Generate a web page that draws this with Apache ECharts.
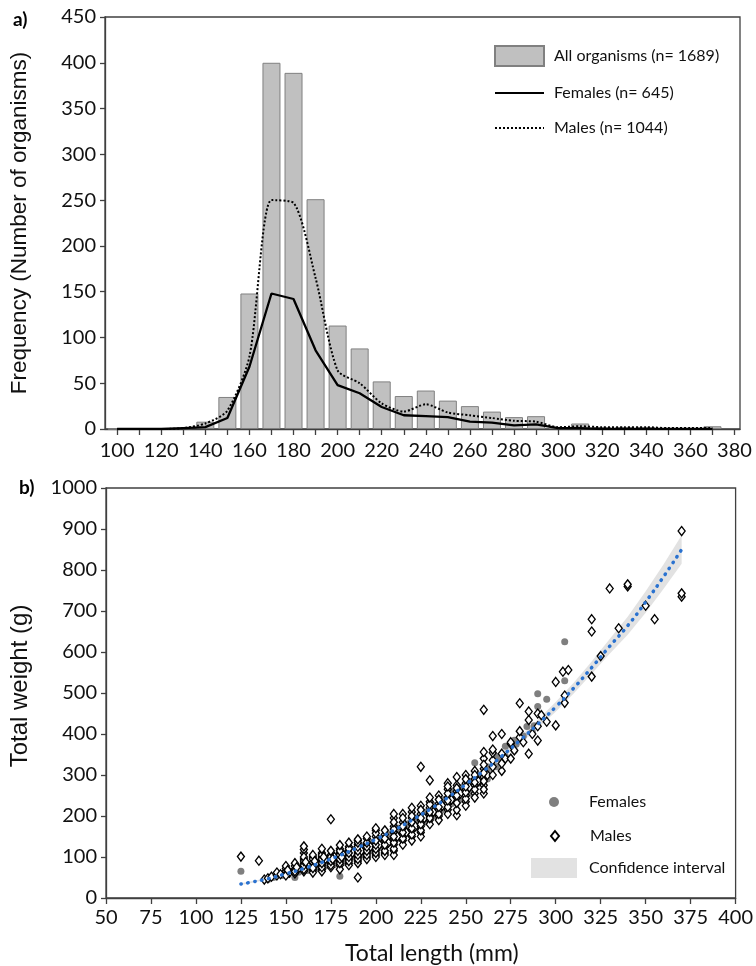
<!DOCTYPE html>
<html>
<head>
<meta charset="utf-8">
<script src="https://cdn.jsdelivr.net/npm/echarts@6/dist/echarts.min.js"></script>
<style>html,body{margin:0;padding:0;background:#fff}#c{width:756px;height:966px}</style>
</head>
<body>
<div id="c"></div>
<script>
// ---------- Panel a) frequency histogram ----------
var lengthClasses = [100,110,120,130,140,150,160,170,180,190,200,210,220,230,240,250,260,270,280,290,300,310,320,330,340,350,360,370];
var allOrganisms  = [0,0,0,1,8,35,148,400,389,251,113,88,52,36,42,31,25,19,13,14,2,6,2,2,2,1,1,3];
var femalesFreq   = [0,0,0,1,2,12,68,148,142,86,48,39,24,15,14,13,8,7,4,5,1,1,0,0,0,0,0,0];
var malesFreq     = [0,0,0,1,6,20,79,250,247,165,64,50,28,19,27,18,15,12,9,8,2,3,2,2,2,1,1,1];
var xTicksA  = [100,110,120,130,140,150,160,170,180,190,200,210,220,230,240,250,260,270,280,290,300,310,320,330,340,350,360,370,380];
var xLabelsA = [100,120,140,160,180,200,220,240,260,280,300,320,340,360,380];

// ---------- Panel b) length-weight ----------
var femalesLW = [[125,65],[140,45],[143,50],[148,55],[151,57],[153,65],[155,50],[157,63],[158,70],[162,67],[163,78],[162,75],[167,72],[168,83],[168,80],[172,78],[173,92],[172,88],[177,82],[178,99],[178,95],[180,53],[182,88],[183,102],[182,110],[187,100],[188,118],[188,112],[192,105],[193,126],[192,120],[197,115],[198,136],[198,128],[202,124],[203,146],[203,140],[207,134],[207,156],[208,150],[212,145],[212,171],[212,160],[217,160],[218,181],[218,175],[222,170],[222,196],[222,185],[227,185],[228,210],[228,200],[232,200],[232,226],[232,215],[237,215],[238,240],[238,230],[242,230],[243,261],[242,250],[247,240],[248,270],[248,260],[252,255],[252,285],[252,275],[257,280],[255,330],[258,300],[262,290],[262,320],[262,310],[267,320],[267,345],[268,340],[272,345],[272,370],[277,360],[277,385],[278,375],[282,395],[284,418],[287,405],[288,420],[290,467],[290,498],[295,485],[305,530],[305,625]];
var malesLW = [[125,101],[135,91],[138,45],[140,48],[142,52],[145,55],[145,62],[147,58],[150,60],[150,66],[150,72],[152,62],[155,70],[155,78],[155,60],[157,72],[160,65],[160,75],[160,85],[160,95],[160,110],[160,118],[162,80],[165,68],[165,78],[165,88],[165,100],[167,85],[170,70],[170,80],[170,90],[170,100],[170,110],[172,95],[175,75],[175,85],[175,95],[175,105],[175,192],[177,100],[180,80],[180,90],[180,100],[180,110],[180,120],[182,105],[185,85],[185,95],[185,105],[185,115],[185,125],[187,110],[190,50],[190,90],[190,100],[190,110],[190,120],[190,130],[190,140],[192,115],[195,100],[195,110],[195,120],[195,130],[195,145],[197,125],[200,105],[200,115],[200,125],[200,135],[200,150],[200,165],[202,130],[205,110],[205,125],[205,140],[205,155],[207,135],[210,115],[210,130],[210,145],[210,160],[210,175],[210,195],[212,150],[215,140],[215,155],[215,170],[215,185],[215,205],[217,160],[220,150],[220,165],[220,180],[220,195],[220,210],[222,175],[225,160],[225,175],[225,190],[225,205],[225,225],[225,320],[227,195],[230,190],[230,205],[230,220],[230,235],[230,287],[232,210],[235,200],[235,215],[235,230],[235,250],[237,225],[240,215],[240,230],[240,245],[240,265],[240,280],[242,240],[245,202],[245,245],[245,260],[245,275],[245,295],[247,255],[250,235],[250,250],[250,265],[250,280],[250,300],[252,270],[255,255],[255,275],[255,290],[255,310],[257,285],[260,255],[260,275],[260,295],[260,315],[260,340],[260,356],[260,459],[262,300],[265,300],[265,320],[265,336],[265,354],[265,362],[265,395],[270,310],[270,328],[270,352],[270,400],[272,340],[275,340],[275,376],[275,380],[277,360],[280,392],[280,407],[280,475],[282,380],[285,352],[285,434],[285,455],[287,400],[290,384],[290,419],[290,450],[292,446],[295,430],[300,421],[300,527],[304,552],[305,476],[305,494],[307,556],[320,540],[320,650],[320,680],[325,590],[330,755],[335,658],[340,760],[340,765],[350,713],[355,680],[370,735],[370,743],[370,895]];
var malesLWDense = [[150,55],[150,78],[151,68],[155,65],[155,85],[156,75],[160,70],[160,80],[160,90],[160,100],[160,126],[161,88],[165,62],[165,73],[165,95],[165,105],[166,90],[170,65],[170,75],[170,85],[170,95],[170,105],[170,120],[171,100],[175,80],[175,90],[175,100],[175,115],[176,95],[180,70],[180,85],[180,95],[180,105],[180,115],[180,129],[181,100],[185,80],[185,90],[185,100],[185,110],[185,120],[185,135],[190,85],[190,95],[190,105],[190,115],[190,125],[190,135],[190,143],[195,95],[195,105],[195,115],[195,125],[195,135],[195,150],[200,100],[200,110],[200,120],[200,130],[200,140],[200,158],[200,170],[205,105],[205,115],[205,130],[205,145],[205,165],[210,105],[210,120],[210,135],[210,150],[210,168],[210,185],[210,205],[215,130],[215,145],[215,160],[215,175],[215,195],[220,140],[220,155],[220,170],[220,185],[220,200],[220,220],[225,150],[225,165],[225,180],[225,195],[225,215],[230,180],[230,195],[230,210],[230,228],[230,245],[235,190],[235,205],[235,222],[235,240],[240,205],[240,222],[240,238],[240,255],[240,272],[245,215],[245,232],[245,250],[245,268],[250,225],[250,242],[250,258],[250,272],[250,290],[255,245],[255,265],[255,282],[255,300],[260,265],[260,285],[260,305],[260,325]];
var fitLengths = [125,130,140,150,160,170,180,190,200,210,220,230,240,250,260,270,280,290,300,310,320,330,340,350,360,370];
var fitWeights = [34,38,47,59,72,87,104,123,143,165,190,216,245,277,310,346,384,424,466,512,562,614,664,722,784,850];
var ciLower    = [32,36,45,56,69,84,101,119,139,161,185,211,239,271,303,338,375,414,454,499,547,596,642,696,754,815];
var ciUpper    = [36,40,49,62,75,90,107,127,147,169,195,221,251,283,317,354,393,434,478,525,577,632,686,748,814,885];

function pairs(xs, ys) { return xs.map(function (x, i) { return [x, ys[i]]; }); }

var FONT = "Lato, 'Liberation Sans Narrow', sans-serif";
var TFONT = "'Liberation Sans', Arial, sans-serif";
var AX = '#404040';
var chart = echarts.init(document.getElementById('c'), null, {renderer: 'canvas'});

var axisCommon = {
  axisLine: {show: true, lineStyle: {color: AX, width: 1.3}},
  axisTick: {show: true, length: 5, lineStyle: {color: AX, width: 1.3}},
  splitLine: {show: false},
  axisLabel: {color: '#111', fontFamily: FONT, fontSize: 20}
};
function ax(o) { return echarts.util.merge(echarts.util.clone(axisCommon), o, true); }
function leg(o) {
  return echarts.util.merge({padding: 0, selectedMode: false, itemGap: 0,
    textStyle: {fontFamily: FONT, fontSize: 16, color: '#111'}}, o, true);
}

var option = {
  animation: false,
  backgroundColor: '#fff',
  title: [
    {text: 'a)', left: 8, top: 5, textStyle: {fontFamily: FONT, fontSize: 19, fontWeight: 'bold', color: '#000'}},
    {text: 'b)', left: 14, top: 473, textStyle: {fontFamily: FONT, fontSize: 19, fontWeight: 'bold', color: '#000'}}
  ],
  grid: [
    {left: 105, right: 16, top: 17, bottom: 537, show: true, borderColor: AX, borderWidth: 1.3},
    {left: 104, right: 18, top: 488, bottom: 66, show: true, borderColor: AX, borderWidth: 1.3}
  ],
  xAxis: [
    ax({type: 'value', gridIndex: 0, min: 94.5, max: 382.5,
        axisTick: {customValues: xTicksA, length: 6},
        axisLabel: {customValues: xLabelsA, margin: 12}}),
    ax({type: 'value', gridIndex: 1, min: 50, max: 400, interval: 25,
        axisTick: {length: 6},
        axisLabel: {margin: 10},
        name: 'Total length (mm)', nameLocation: 'middle', nameGap: 44,
        nameTextStyle: {fontFamily: FONT, fontSize: 23, color: '#111', padding: [0, 0, 0, 22]}})
  ],
  yAxis: [
    ax({type: 'value', gridIndex: 0, min: 0, max: 450, interval: 50,
        axisLabel: {margin: 9},
        name: 'Frequency (Number of organisms)', nameLocation: 'middle', nameGap: 74,
        nameTextStyle: {fontFamily: TFONT, fontSize: 22.5, color: '#111'}}),
    ax({type: 'value', gridIndex: 1, min: 0, max: 1000, interval: 100,
        axisLabel: {margin: 9, formatter: function (v) { return String(v); }},
        name: 'Total weight (g)', nameLocation: 'middle', nameGap: 74,
        nameTextStyle: {fontFamily: TFONT, fontSize: 24, color: '#111', padding: [0, 0, 0, 14]}})
  ],
  legend: [
    leg({left: 494, top: 45, itemWidth: 49, itemHeight: 20,
     textStyle: {padding: [0, 0, 0, 5]},
     data: [{name: 'All organisms (n= 1689)', icon: 'rect'}]}),
    leg({left: 494, top: 85, itemWidth: 49, itemHeight: 2,
     textStyle: {padding: [0, 0, 0, 5]},
     data: ['Females (n= 645)']}),
    leg({left: 494, top: 120, itemWidth: 49, itemHeight: 2,
     textStyle: {padding: [0, 0, 0, 5]},
     data: ['Males (n= 1044)']}),
    leg({left: 549, top: 794, itemWidth: 10, itemHeight: 10,
     textStyle: {padding: [0, 0, 0, 25]},
     data: ['Females']}),
    leg({left: 550, top: 828, itemWidth: 8, itemHeight: 10,
     textStyle: {padding: [0, 0, 0, 26]},
     data: ['Males']}),
    leg({left: 531, top: 858, itemWidth: 46, itemHeight: 20,
     textStyle: {padding: [0, 0, 0, 7]},
     data: [{name: 'Confidence interval', icon: 'rect', itemStyle: {color: '#e2e2e2', borderWidth: 0}}]})
  ],
  series: [
    {name: 'All organisms (n= 1689)', type: 'bar', xAxisIndex: 0, yAxisIndex: 0, barWidth: 18,
     itemStyle: {color: '#c0c0c0', borderColor: '#808080', borderWidth: 1},
     data: pairs(lengthClasses, allOrganisms)},
    {name: 'Females (n= 645)', type: 'line', xAxisIndex: 0, yAxisIndex: 0, symbol: 'none',
     lineStyle: {color: '#000', width: 2.3}, itemStyle: {color: '#000'},
     data: pairs(lengthClasses, femalesFreq)},
    {name: 'Males (n= 1044)', type: 'line', xAxisIndex: 0, yAxisIndex: 0, symbol: 'none', smooth: 0.25,
     lineStyle: {color: '#000', width: 2, type: [2, 2]}, itemStyle: {color: '#000'},
     data: pairs(lengthClasses, malesFreq)},
    {name: 'Confidence interval', type: 'custom', xAxisIndex: 1, yAxisIndex: 1, silent: true, z: 1,
     itemStyle: {color: '#e2e2e2'},
     data: fitLengths.map(function (x, i) { return [x, ciLower[i], ciUpper[i]]; }),
     encode: {x: 0, y: [1, 2]},
     renderItem: function (params, api) {
       if (params.dataIndex !== 0) return null;
       var pts = [], i;
       for (i = 0; i < fitLengths.length; i++) pts.push(api.coord([fitLengths[i], ciUpper[i]]));
       for (i = fitLengths.length - 1; i >= 0; i--) pts.push(api.coord([fitLengths[i], ciLower[i]]));
       return {type: 'polygon', shape: {points: pts}, style: {fill: '#e2e2e2'}};
     }},
    {name: 'Females', type: 'scatter', xAxisIndex: 1, yAxisIndex: 1, symbol: 'circle', symbolSize: 7, z: 3,
     itemStyle: {color: '#7f7f7f', opacity: 1}, data: femalesLW},
    {name: 'Males', type: 'scatter', xAxisIndex: 1, yAxisIndex: 1, symbol: 'diamond', symbolSize: [7, 9], z: 4,
     itemStyle: {color: '#ffffff', borderColor: '#000', borderWidth: 1.35, opacity: 1},
     data: malesLW.concat(malesLWDense)},
    {name: 'fit', type: 'line', xAxisIndex: 1, yAxisIndex: 1, symbol: 'none', smooth: true, silent: true, z: 5,
     lineStyle: {color: '#2a72d0', width: 3.5, type: [0.5, 6.5], cap: 'round'},
     data: pairs(fitLengths, fitWeights)}
  ]
};
chart.setOption(option);
</script>
</body>
</html>
